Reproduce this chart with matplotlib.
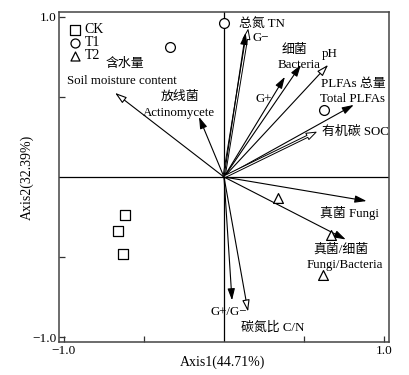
import numpy as np
import matplotlib.pyplot as plt

plt.rcParams['font.family'] = ['Liberation Serif', 'Noto Sans CJK SC']
plt.rcParams['axes.unicode_minus'] = True

# sample scores
ck_x = [-0.62, -0.66, -0.63]
ck_y = [-0.24, -0.34, -0.48]
t1_x = [-0.34, 0.00, 0.625]
t1_y = [0.81, 0.96, 0.42]
t2_x = [0.34, 0.67, 0.62]
t2_y = [-0.13, -0.36, -0.61]

# variable loadings
var_names = ['Soil moisture', 'Actinomycete', 'TN', 'G-', 'Bacteria', 'G+', 'pH',
             'Total PLFAs', 'SOC', 'Fungi', 'Fungi/Bacteria', 'G+/G-', 'C/N']
var_x = [-0.68, -0.156, 0.15, 0.135, 0.48, 0.38, 0.65, 0.81, 0.575, 0.89, 0.76, 0.05, 0.15]
var_y = [0.525, 0.375, 0.92, 0.90, 0.70, 0.625, 0.70, 0.45, 0.28, -0.15, -0.39, -0.77, -0.84]
var_open = [True, False, True, False, False, False, True, False, True, False, False, False, True]
var_wide = [False, False, True, False, False, False, False, False, True, False, False, False, False]

fig = plt.figure(figsize=(4.09, 3.75), dpi=100)
ax = fig.add_axes([59/409, 1-342/375, 330/409, 330/375])

ax.axhline(0, color='black', lw=0.9, zorder=1)
ax.axvline(0, color='black', lw=0.9, zorder=1)

for x, y, op, wide in zip(var_x, var_y, var_open, var_wide):
    if wide:
        ax.annotate('', xy=(x, y), xytext=(0, 0),
                    arrowprops=dict(arrowstyle='simple,head_length=0.7,head_width=0.5,tail_width=0.15',
                                    fc='white', ec='black', lw=0.7, shrinkA=0, shrinkB=0))
    else:
        ax.annotate('', xy=(x, y), xytext=(0, 0),
                    arrowprops=dict(arrowstyle='-|>,head_length=0.7,head_width=0.22',
                                    fc='white' if op else 'black', ec='black', lw=0.8,
                                    shrinkA=0, shrinkB=0))

ax.scatter(ck_x, ck_y, marker='s', s=42, facecolors='white', edgecolors='black', linewidths=0.9, zorder=3)
ax.scatter(t1_x, t1_y, marker='o', s=50, facecolors='white', edgecolors='black', linewidths=0.9, zorder=3)
ax.scatter(t2_x, t2_y, marker='^', s=50, facecolors='white', edgecolors='black', linewidths=0.9, zorder=3)

# legend (drawn as plain text and markers)
for i, (m, lab) in enumerate([('s', 'CK'), ('o', 'T1'), ('^', 'T2')]):
    yy = 0.92 - i * 0.082
    ax.scatter([-0.93], [yy], marker=m, s=42, facecolors='white', edgecolors='black', linewidths=0.9)
    ax.text(-0.87, yy, lab, fontsize=10, va='center', ha='left')

fs = 9.3
ax.text(-0.62, 0.705, '含水量', fontsize=fs, ha='center', va='center')
ax.text(-0.64, 0.60, 'Soil moisture content', fontsize=fs, ha='center', va='center')
ax.text(-0.275, 0.50, '放线菌', fontsize=fs, ha='center', va='center')
ax.text(-0.28, 0.40, 'Actinomycete', fontsize=fs, ha='center', va='center')
ax.text(0.095, 0.955, '总氮 TN', fontsize=fs, ha='left', va='center')
ax.text(0.175, 0.87, 'G−', fontsize=fs, ha='left', va='center')
ax.text(0.44, 0.79, '细菌', fontsize=fs, ha='center', va='center')
ax.text(0.47, 0.70, 'Bacteria', fontsize=fs, ha='center', va='center')
ax.text(0.61, 0.765, 'pH', fontsize=fs, ha='left', va='center')
ax.text(0.605, 0.58, 'PLFAs 总量', fontsize=fs, ha='left', va='center')
ax.text(0.60, 0.49, 'Total PLFAs', fontsize=fs, ha='left', va='center')
ax.text(0.61, 0.28, '有机碳 SOC', fontsize=fs, ha='left', va='center')
ax.text(0.245, 0.49, 'G+', fontsize=fs, ha='center', va='center')
ax.text(0.60, -0.225, '真菌 Fungi', fontsize=fs, ha='left', va='center')
ax.text(0.73, -0.45, '真菌/细菌', fontsize=fs, ha='center', va='center')
ax.text(0.755, -0.55, 'Fungi/Bacteria', fontsize=fs, ha='center', va='center')
ax.text(-0.085, -0.84, 'G+/G−', fontsize=fs, ha='left', va='center')
ax.text(0.105, -0.94, '碳氮比 C/N', fontsize=fs, ha='left', va='center')

ax.set_xlim(-1.03, 1.03)
ax.set_ylim(-1.03, 1.03)
ax.set_xticks([-1.0, -0.5, 0.5, 1.0])
ax.set_xticklabels(['−1.0', '', '', '1.0'])
ax.set_yticks([-1.0, -0.5, 0.5, 1.0])
ax.set_yticklabels(['−1.0', '', '', '1.0'])
ax.tick_params(direction='in', length=4, width=0.9, labelsize=9.5, pad=2, colors='#333333', labelcolor='black')
for sp in ax.spines.values():
    sp.set_linewidth(1.1)
    sp.set_color('#444444')

fig.text(223/409, 1-362/375, 'Axis1(44.71%)', fontsize=10, ha='center', va='center')
fig.text(27/409, 1-177/375, 'Axis2(32.39%)', fontsize=10, ha='center', va='center', rotation=90)

fig.savefig('out.png', dpi=100)
